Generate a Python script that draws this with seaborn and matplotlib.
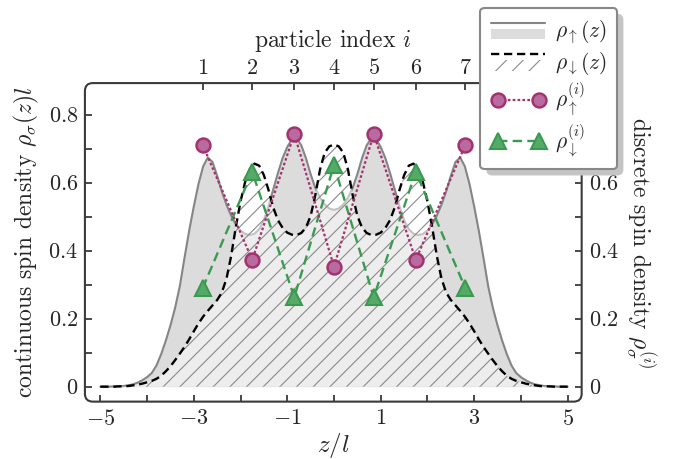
import pandas as pd
import matplotlib
matplotlib.use("Agg")
import matplotlib.pyplot as plt
import seaborn as sns
from matplotlib.patches import FancyBboxPatch, Rectangle
from matplotlib.lines import Line2D
from matplotlib.legend_handler import HandlerBase
from matplotlib.transforms import IdentityTransform

# continuous densities on a 0.1 grid in z/l
z = [-5.0, -4.9, -4.8, -4.7, -4.6, -4.5, -4.4, -4.3, -4.2, -4.1,
     -4.0, -3.9, -3.8, -3.7, -3.6, -3.5, -3.4, -3.3, -3.2, -3.1,
     -3.0, -2.9, -2.8, -2.7, -2.6, -2.5, -2.4, -2.3, -2.2, -2.1,
     -2.0, -1.9, -1.8, -1.7, -1.6, -1.5, -1.4, -1.3, -1.2, -1.1,
     -1.0, -0.9, -0.8, -0.7, -0.6, -0.5, -0.4, -0.3, -0.2, -0.1,
     0.0,
     0.1, 0.2, 0.3, 0.4, 0.5, 0.6, 0.7, 0.8, 0.9, 1.0,
     1.1, 1.2, 1.3, 1.4, 1.5, 1.6, 1.7, 1.8, 1.9, 2.0,
     2.1, 2.2, 2.3, 2.4, 2.5, 2.6, 2.7, 2.8, 2.9, 3.0,
     3.1, 3.2, 3.3, 3.4, 3.5, 3.6, 3.7, 3.8, 3.9, 4.0,
     4.1, 4.2, 4.3, 4.4, 4.5, 4.6, 4.7, 4.8, 4.9, 5.0]

rho_up = [0.000, 0.000, 0.000, 0.001, 0.001, 0.002, 0.004, 0.007, 0.012, 0.019,
          0.028, 0.040, 0.062, 0.095, 0.135, 0.180, 0.232, 0.295, 0.378, 0.458,
          0.530, 0.596, 0.648, 0.674, 0.661, 0.620, 0.574, 0.535, 0.503, 0.477,
          0.459, 0.449, 0.446, 0.450, 0.463, 0.490, 0.532, 0.580, 0.628, 0.672,
          0.705, 0.728, 0.731, 0.710, 0.672, 0.625, 0.585, 0.556, 0.536, 0.524,
          0.520,
          0.524, 0.536, 0.556, 0.585, 0.625, 0.672, 0.710, 0.731, 0.728, 0.705,
          0.672, 0.628, 0.580, 0.532, 0.490, 0.463, 0.450, 0.446, 0.449, 0.459,
          0.477, 0.503, 0.535, 0.574, 0.620, 0.661, 0.674, 0.648, 0.596, 0.530,
          0.458, 0.378, 0.295, 0.232, 0.180, 0.135, 0.095, 0.062, 0.040, 0.028,
          0.019, 0.012, 0.007, 0.004, 0.002, 0.001, 0.001, 0.000, 0.000, 0.000]

rho_dn = [0.000, 0.000, 0.000, 0.000, 0.001, 0.001, 0.002, 0.004, 0.006, 0.009,
          0.013, 0.017, 0.023, 0.032, 0.045, 0.060, 0.078, 0.097, 0.117, 0.139,
          0.163, 0.186, 0.206, 0.223, 0.239, 0.255, 0.277, 0.318, 0.385, 0.470,
          0.545, 0.603, 0.640, 0.656, 0.650, 0.622, 0.578, 0.527, 0.490, 0.467,
          0.453, 0.447, 0.446, 0.452, 0.468, 0.502, 0.563, 0.638, 0.688, 0.707,
          0.712,
          0.707, 0.688, 0.638, 0.563, 0.502, 0.468, 0.452, 0.446, 0.447, 0.453,
          0.467, 0.490, 0.527, 0.578, 0.622, 0.650, 0.656, 0.640, 0.603, 0.545,
          0.470, 0.385, 0.318, 0.277, 0.255, 0.239, 0.223, 0.206, 0.186, 0.163,
          0.139, 0.117, 0.097, 0.078, 0.060, 0.045, 0.032, 0.023, 0.017, 0.013,
          0.009, 0.006, 0.004, 0.002, 0.001, 0.001, 0.000, 0.000, 0.000, 0.000]

# discrete densities per particle
particle_idx = [1, 2, 3, 4, 5, 6, 7]
particle_z = [-2.81, -1.75, -0.85, 0.0, 0.85, 1.75, 2.81]
rho_up_i = [0.711, 0.373, 0.743, 0.353, 0.743, 0.373, 0.711]
rho_dn_i = [0.290, 0.632, 0.263, 0.652, 0.263, 0.632, 0.290]

x_ticks = [-5, -4, -3, -2, -1, 0, 1, 2, 3, 4, 5]
x_labels = [r"$-5$", "", r"$-3$", "", r"$-1$", "", r"$1$", "", r"$3$", "", r"$5$"]
y_ticks = [0, 0.1, 0.2, 0.3, 0.4, 0.5, 0.6, 0.7, 0.8]
y_labels = [r"$0$", "", r"$0.2$", "", r"$0.4$", "", r"$0.6$", "", r"$0.8$"]

cont = pd.DataFrame({"z": z, "up": rho_up, "dn": rho_dn})
disc = pd.DataFrame({"z": particle_z, "up": rho_up_i, "dn": rho_dn_i})

sns.set_theme(style="ticks")
plt.rcParams["font.family"] = ["cmr10", "DejaVu Serif"]
plt.rcParams["mathtext.fontset"] = "cm"
plt.rcParams["axes.unicode_minus"] = False
plt.rcParams["hatch.linewidth"] = 0.8

pink = "#a3336f"
pink_face = "#b96a9f"
green = "#3a9a50"
green_face = "#55aa68"
frame_col = "#3a3a3a"

fig = plt.figure(figsize=(6.74, 4.59), dpi=100)
ax = fig.add_axes([0.126, 0.125, 0.737, 0.694])

# continuous densities
ax.fill_between(cont["z"], 0, cont["up"], color="#dcdcdc", lw=0, zorder=1)
sns.lineplot(data=cont, x="z", y="up", color="#858585", lw=1.5, ax=ax, zorder=2)
ax.fill_between(cont["z"], 0, cont["dn"], facecolor=(1, 1, 1, 0.5),
                edgecolor="#8a8a8a", hatch="//", lw=0, zorder=3)
sns.lineplot(data=cont, x="z", y="dn", color="black", lw=1.7,
             linestyle=(0, (3.5, 2)), ax=ax, zorder=4)

# discrete densities
sns.lineplot(data=disc, x="z", y="dn", sort=False, color=green, lw=1.7,
             linestyle=(0, (4, 2.2)), marker="^", markersize=11,
             markerfacecolor=green_face, markeredgecolor=green, markeredgewidth=1.5,
             ax=ax, zorder=5)
sns.lineplot(data=disc, x="z", y="up", sort=False, color=pink, lw=1.6,
             linestyle=(0, (1.2, 1)), marker="o", markersize=10,
             markerfacecolor=pink_face, markeredgecolor=pink, markeredgewidth=1.8,
             ax=ax, zorder=6)

ax.set_xlim(-5.33, 5.3)
ax.set_ylim(-0.044, 0.893)
ax.set_xticks(x_ticks)
ax.set_xticklabels(x_labels)
ax.set_yticks(y_ticks)
ax.set_yticklabels(y_labels)
ax.set_xlabel(r"$z/l$", fontsize=18, va="center")
ax.xaxis.set_label_coords(0.5, -0.139)
ax.set_ylabel(r"continuous spin density $\rho_\sigma(z)l$", fontsize=17, va="center")
ax.yaxis.set_label_coords(-0.118, 0.5)

# top axis: particle index
axt = ax.twiny()
axt.set_xlim(ax.get_xlim())
axt.set_xticks(particle_z)
axt.set_xticklabels([f"${i}$" for i in particle_idx])
axt.set_xlabel(r"particle index $i$", fontsize=17, va="center")
axt.xaxis.set_label_coords(0.5, 1.135)

# right axis: discrete density
axr = ax.twinx()
axr.set_ylim(ax.get_ylim())
axr.set_yticks(y_ticks)
axr.set_yticklabels(y_labels)
axr.set_ylabel(r"discrete spin density $\rho_\sigma^{(i)}$", fontsize=17,
               rotation=-90, rotation_mode="default", va="center", ha="center")
axr.yaxis.set_label_coords(1.118, 0.5)

for a in (ax, axt, axr):
    for s in a.spines.values():
        s.set_visible(False)
    a.tick_params(direction="in", length=5, width=1.3, color=frame_col,
                  labelsize=16, pad=5)
    a.grid(False)
ax.tick_params(top=False, right=False)
axt.tick_params(pad=4)

# rounded axes frame
w_px = 0.737 * 674
h_px = 0.694 * 459
frame = FancyBboxPatch((0, 0), 1, 1, boxstyle="round,pad=0,rounding_size=0.016",
                       mutation_aspect=w_px / h_px, transform=ax.transAxes,
                       fill=False, ec=frame_col, lw=1.5, clip_on=False, zorder=10)
ax.add_patch(frame)


class LineOverPatch(HandlerBase):
    def __init__(self, line_kw, patch_kw):
        super().__init__()
        self.line_kw = line_kw
        self.patch_kw = patch_kw

    def create_artists(self, legend, orig_handle, xdescent, ydescent,
                       width, height, fontsize, trans):
        x0, y0 = -xdescent, -ydescent
        patch = Rectangle((x0, y0 - 0.1 * height), width, 0.7 * height,
                          transform=trans, **self.patch_kw)
        line = Line2D([x0, x0 + width], [y0 + 1.0 * height] * 2,
                      transform=trans, **self.line_kw)
        return [patch, line]


h_up = Rectangle((0, 0), 1, 1)
h_dn = Rectangle((0, 0), 1, 1)
h_up_i = Line2D([], [], color=pink, lw=1.6, linestyle=(0, (1.2, 1)), marker="o",
                markersize=10, markerfacecolor=pink_face, markeredgecolor=pink,
                markeredgewidth=1.8)
h_dn_i = Line2D([], [], color=green, lw=1.7, linestyle=(0, (4, 2.2)), marker="^",
                markersize=11, markerfacecolor=green_face, markeredgecolor=green,
                markeredgewidth=1.5)

handler_map = {
    h_up: LineOverPatch(dict(color="#858585", lw=1.5),
                        dict(facecolor="#dcdcdc", lw=0)),
    h_dn: LineOverPatch(dict(color="black", lw=1.7, linestyle=(0, (3.5, 2))),
                        dict(facecolor="white", edgecolor="#8a8a8a", hatch="//", lw=0)),
}

leg = fig.legend([h_up, h_dn, h_up_i, h_dn_i],
                 [r"$\rho_\uparrow(z)$", r"$\rho_\downarrow(z)$",
                  r"$\rho_\uparrow^{(i)}$", r"$\rho_\downarrow^{(i)}$"],
                 handler_map=handler_map, loc="upper right",
                 bbox_to_anchor=(0.916, 0.983), fontsize=15.5, numpoints=2,
                 frameon=True, fancybox=True, framealpha=1, edgecolor="#888888",
                 handlelength=2.5, handletextpad=0.45, labelspacing=0.18,
                 borderpad=0.5, borderaxespad=0)
leg.get_frame().set_linewidth(1.5)
leg.set_zorder(20)

# offset shadow behind the legend
fig.canvas.draw()
bb = leg.get_frame().get_window_extent()
shadow = FancyBboxPatch((bb.x0 + 6, bb.y0 - 6), bb.width, bb.height,
                        boxstyle="round,pad=0,rounding_size=6",
                        transform=IdentityTransform(), fc="#c4c4c4", ec="none",
                        zorder=19)
fig.add_artist(shadow)

fig.savefig("out.png", dpi=100)
